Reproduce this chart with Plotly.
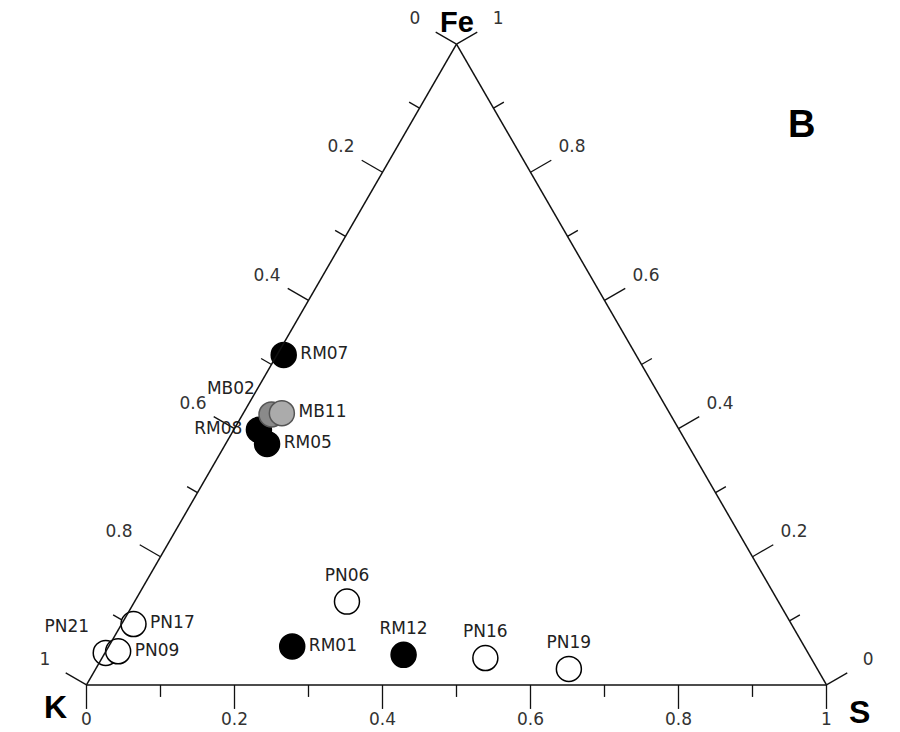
import math
import plotly.graph_objects as go

# ---- data (ternary fractions) ----
black_names = ["RM07", "RM08", "RM05", "RM01", "RM12"]
black_fe = [0.515, 0.398, 0.376, 0.060, 0.047]
black_k = [0.476, 0.568, 0.568, 0.692, 0.548]
black_s = [0.009, 0.034, 0.056, 0.248, 0.405]
black_pos = ["middle right", "middle left", "middle right", "middle right", "top center"]

gray_names = ["MB02", "MB11"]
gray_fe = [0.422, 0.424]
gray_k = [0.539, 0.524]
gray_s = [0.039, 0.052]
gray_pos = ["top left", "middle right"]
gray_fill = ["#8a8a8a", "#ababab"]

white_names = ["PN06", "PN16", "PN19", "PN17", "PN21", "PN09"]
white_fe = [0.130, 0.042, 0.025, 0.095, 0.050, 0.0525]
white_k = [0.583, 0.440, 0.336, 0.889, 0.949, 0.931]
white_s = [0.287, 0.518, 0.640, 0.016, 0.001, 0.0165]
white_pos = ["top center", "top center", "top center", "middle right", "top left", "middle right"]

tick_vals = [0.0, 0.1, 0.2, 0.3, 0.4, 0.5, 0.6, 0.7, 0.8, 0.9, 1.0]
tick_text = ["0", "", "0.2", "", "0.4", "", "0.6", "", "0.8", "", "1"]

FONT = "DejaVu Sans, Verdana, sans-serif"
BOLD = "Liberation Sans, Arial, sans-serif"

# ---- geometry of the plotted (equilateral) triangle, in page pixels ----
W, H = 900, 732
SIDE = 740.0
R3 = math.sqrt(3)
TRI_H = SIDE * R3 / 2
CX = 456.5
TOP = 364.5 - TRI_H / 2
BOT = TOP + TRI_H
LEFT_X, RIGHT_X = CX - SIDE / 2, CX + SIDE / 2
V_FE, V_K, V_S = (CX, TOP), (LEFT_X, BOT), (RIGHT_X, BOT)

# each edge: start vertex, end vertex (value 0 -> 1), outward unit normal
EDGES = {
    "left": (V_FE, V_K, (-R3 / 2, -0.5)),    # K fraction
    "bottom": (V_K, V_S, (0.0, 1.0)),        # S fraction
    "right": (V_S, V_FE, (R3 / 2, -0.5)),    # Fe fraction
}


def edge_xy(side, t, dist):
    p0, p1, n = EDGES[side]
    return (p0[0] + t * (p1[0] - p0[0]) + dist * n[0],
            p0[1] + t * (p1[1] - p0[1]) + dist * n[1])


tk_x, tk_y = [], []
lb_x, lb_y, lb_t = [], [], []
for side in ["left", "bottom", "right"]:
    for t, lab in zip(tick_vals, tick_text):
        length = 24 if lab else 12
        x0, y0 = edge_xy(side, t, 0)
        x1, y1 = edge_xy(side, t, length)
        tk_x += [x0, x1, None]
        tk_y += [y0, y1, None]
        if lab:
            lx, ly = edge_xy(side, t, 36 if side == "bottom" else 48)
            lb_x.append(lx); lb_y.append(ly); lb_t.append(lab)

fig = go.Figure()

# ticks and tick labels on a hidden pixel-scaled cartesian overlay
fig.add_trace(go.Scatter(x=tk_x, y=tk_y, mode="lines", line=dict(color="#111", width=1.3),
                         showlegend=False, hoverinfo="skip", cliponaxis=False))
fig.add_trace(go.Scatter(x=lb_x, y=lb_y, mode="text", text=lb_t, textposition="middle center",
                         textfont=dict(family=FONT, size=17, color="#333"),
                         showlegend=False, hoverinfo="skip", cliponaxis=False))


def add(names, fe, k, s, pos, fill, line):
    fig.add_trace(go.Scatterternary(
        a=fe, b=k, c=s, mode="markers+text", text=names, textposition=pos,
        textfont=dict(family=FONT, size=17, color="#222"),
        marker=dict(size=25, color=fill, line=dict(color=line, width=1.5)),
        cliponaxis=False, showlegend=False, hoverinfo="text"))


add(black_names, black_fe, black_k, black_s, black_pos, "black", "black")
add(gray_names, gray_fe, gray_k, gray_s, gray_pos, gray_fill, "#555")
add(white_names, white_fe, white_k, white_s, white_pos, "white", "black")

axis_common = dict(showticklabels=False, ticks="", showgrid=False,
                   linecolor="#111", linewidth=1.5, min=0, title=dict(text=""))


def px_note(text, x, y, size):
    return dict(text="<b>%s</b>" % text, x=x / W, y=1 - y / H, xref="paper", yref="paper",
                xanchor="center", yanchor="middle", showarrow=False,
                font=dict(family=BOLD, size=size, color="black"))


fig.update_layout(
    width=W, height=H,
    paper_bgcolor="white", plot_bgcolor="rgba(0,0,0,0)",
    margin=dict(l=0, r=0, t=0, b=0),
    xaxis=dict(visible=False, range=[0, W], fixedrange=True),
    yaxis=dict(visible=False, range=[H, 0], fixedrange=True),
    ternary=dict(domain=dict(x=[LEFT_X / W, RIGHT_X / W], y=[1 - BOT / H, 1 - TOP / H]),
                 bgcolor="white", sum=1,
                 aaxis=axis_common, baxis=axis_common, caxis=axis_common),
    annotations=[
        px_note("Fe", CX, TOP - 22, 29),
        px_note("K", LEFT_X - 31, BOT + 22, 32),
        px_note("S", RIGHT_X + 33, BOT + 27, 32),
        px_note("B", 801, 124, 38),
    ],
)

fig.write_html("out.html", config={"displayModeBar": False},
               post_script="document.body.style.margin='0px';")
